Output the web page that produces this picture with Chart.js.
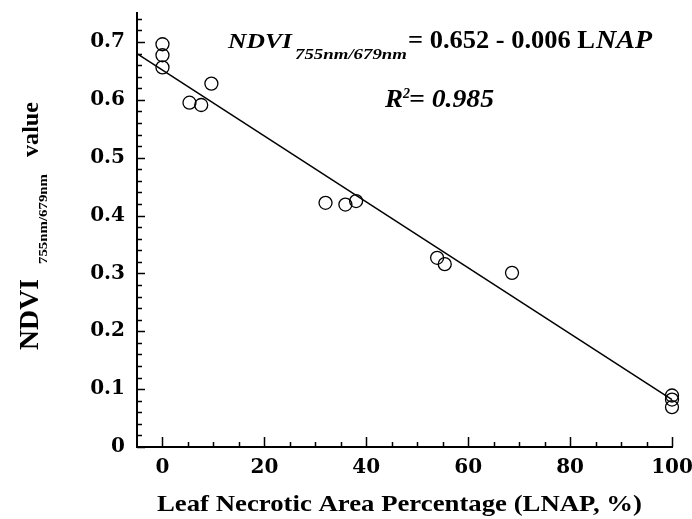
<!DOCTYPE html>
<html>
<head>
<meta charset="utf-8">
<script src="https://cdn.jsdelivr.net/npm/chart.js@4.4.1/dist/chart.umd.min.js"></script>
<style>
  html, body { margin: 0; padding: 0; background: #ffffff; }
  #wrap { width: 692px; height: 519px; }
  canvas { display: block; }
</style>
</head>
<body>
<div id="wrap"><canvas id="c" width="692" height="519"></canvas></div>
<script>
// ---- data ----
const lnap = [0, 0, 0, 5.3, 7.6, 9.6, 32.0, 35.9, 38.0, 53.9, 55.4, 68.6, 100, 100, 100];
const ndvi = [0.696, 0.677, 0.656, 0.595, 0.591, 0.628, 0.422, 0.419, 0.425, 0.327, 0.316, 0.301, 0.089, 0.082, 0.069];
const fitX = [-5, 100];
const fitY = [0.680, 0.082];
const xTicks = [0, 20, 40, 60, 80, 100];
const yTicks = [0, 0.1, 0.2, 0.3, 0.4, 0.5, 0.6, 0.7];
const xRange = [-5, 100];
const yRange = [0, 0.75];
const xMinorStep = 5;
const yMinorStep = 0.02;

const points = lnap.map((x, i) => ({ x: x, y: ndvi[i] }));
const fitLine = fitX.map((x, i) => ({ x: x, y: fitY[i] }));

const SERIF = '"Liberation Serif", "Times New Roman", serif';

function run(ctx, text, x, y, font, w) {
  ctx.save();
  ctx.font = font;
  ctx.textAlign = 'left';
  ctx.textBaseline = 'alphabetic';
  const m = ctx.measureText(text).width;
  ctx.translate(x, y);
  ctx.scale(w / m, 1);
  ctx.fillText(text, 0, 0);
  ctx.restore();
}

const decor = {
  id: 'decor',
  afterDraw(chart) {
    const ctx = chart.ctx;
    const xs = chart.scales.x, ys = chart.scales.y;
    const area = chart.chartArea;
    ctx.save();
    ctx.strokeStyle = '#000';
    ctx.lineWidth = 1.5;
    ctx.beginPath();
    // y ticks (inward)
    const nY = Math.round((yRange[1] - yRange[0]) / yMinorStep);
    for (let i = 0; i < nY; i++) {
      const v = yRange[0] + i * yMinorStep;
      const py = Math.round(ys.getPixelForValue(v)) + 0.5;
      const len = (i % 5 === 0) ? 8 : 5;
      ctx.moveTo(area.left, py);
      ctx.lineTo(area.left + len, py);
    }
    // x ticks (inward)
    const nX = Math.round((xRange[1] - 0) / xMinorStep);
    for (let i = 0; i <= nX; i++) {
      const v = i * xMinorStep;
      const px = Math.round(xs.getPixelForValue(v)) + 0.5;
      const len = (v % 20 === 0) ? 10 : 5;
      ctx.moveTo(px, area.bottom);
      ctx.lineTo(px, area.bottom - len);
    }
    ctx.stroke();

    ctx.fillStyle = '#000';
    // equation
    run(ctx, 'NDVI', 228, 48, 'italic bold 21px ' + SERIF, 64);
    run(ctx, '755nm/679nm', 295, 59, 'italic bold 14px ' + SERIF, 112);
    run(ctx, '= 0.652 - 0.006 L', 408, 48, 'bold 26px ' + SERIF, 187);
    run(ctx, 'NAP', 596, 48, 'italic bold 26px ' + SERIF, 56);
    // R2
    run(ctx, 'R', 385, 107, 'italic bold 26px ' + SERIF, 18);
    run(ctx, '2', 403, 98, 'italic bold 14px ' + SERIF, 7);
    run(ctx, '= 0.985', 409, 107, 'italic bold 26px ' + SERIF, 85);

    // x title
    run(ctx, 'Leaf Necrotic Area Percentage (LNAP, %)', 157, 511, 'bold 23px ' + SERIF, 485);

    // y title (rotated)
    ctx.save();
    ctx.translate(38, 350);
    ctx.rotate(-Math.PI / 2);
    run(ctx, 'NDVI', 0, 0, 'bold 27px ' + SERIF, 71);
    run(ctx, '755nm/679nm', 86, 9, 'bold 13px ' + SERIF, 90);
    run(ctx, 'value', 193, 0, 'bold 23px ' + SERIF, 55);
    ctx.restore();

    ctx.restore();
  }
};

new Chart(document.getElementById('c'), {
  type: 'scatter',
  data: {
    datasets: [
      {
        label: 'Observed',
        data: points,
        pointStyle: 'circle',
        pointRadius: 6.5,
        pointHoverRadius: 6.5,
        pointBorderWidth: 1.3,
        borderColor: '#000',
        backgroundColor: 'rgba(0,0,0,0)',
        clip: false
      },
      {
        label: 'Fit',
        type: 'line',
        data: fitLine,
        borderColor: '#000',
        borderWidth: 1.5,
        pointRadius: 0,
        fill: false,
        clip: false
      }
    ]
  },
  options: {
    responsive: false,
    animation: false,
    events: [],
    layout: { padding: { top: 13, right: 20, left: 0, bottom: 0 } },
    plugins: { legend: { display: false }, tooltip: { enabled: false } },
    scales: {
      x: {
        type: 'linear',
        min: xRange[0],
        max: xRange[1],
        afterBuildTicks: (s) => { s.ticks = xTicks.map(v => ({ value: v })); },
        afterFit: (s) => { s.height = 72; s.paddingLeft = 0; s.paddingRight = 0; },
        grid: { display: false, drawTicks: false },
        border: { display: true, color: '#000', width: 2 },
        ticks: {
          color: '#000',
          padding: 9,
          maxRotation: 0,
          font: { family: '"DejaVu Serif"', weight: 'bold', size: 20 }
        }
      },
      y: {
        type: 'linear',
        min: yRange[0],
        max: yRange[1],
        afterBuildTicks: (s) => { s.ticks = yTicks.map(v => ({ value: v })); },
        afterFit: (s) => { s.width = 137; s.paddingTop = 0; s.paddingBottom = 0; },
        grid: { display: false, drawTicks: false },
        border: { display: true, color: '#000', width: 2 },
        ticks: {
          color: '#000',
          padding: 12,
          font: { family: '"DejaVu Serif"', weight: 'bold', size: 20 }
        }
      }
    }
  },
  plugins: [decor]
});
</script>
</body>
</html>
